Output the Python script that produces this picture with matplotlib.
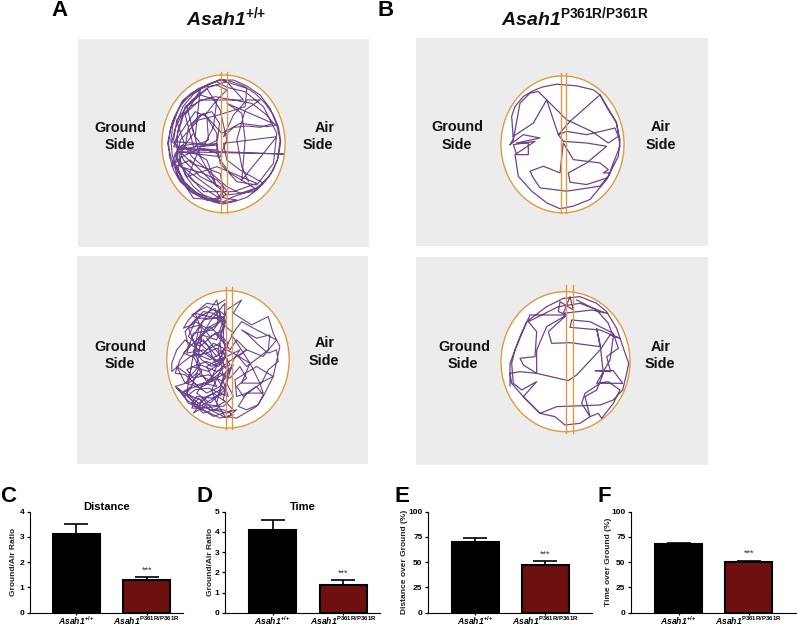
import matplotlib
matplotlib.use("Agg")
import matplotlib.pyplot as plt
from matplotlib.patches import Ellipse

plt.rcParams['font.family'] = ['Liberation Sans', 'DejaVu Sans']
plt.rcParams['mathtext.fontset'] = 'custom'
plt.rcParams['mathtext.it'] = 'Liberation Sans:italic:bold'
plt.rcParams['mathtext.bf'] = 'Liberation Sans:bold'
plt.rcParams['mathtext.rm'] = 'Liberation Sans:italic:bold'

W, H = 797, 626
GRAY, ORANGE, PURPLE, RED = '#ececec', '#e09a3e', '#5c3180', '#6e0f10'
WT = r'$\mathit{Asah1}^{\mathbf{{+}/{+}}}$'
KI = r'$\mathit{Asah1}^{\mathbf{P361R/P361R}}$'

# ---- bar data
groups = [WT, KI]
dist_ratio, dist_ratio_err = [3.1, 1.3], [0.43, 0.12]
time_ratio, time_ratio_err = [4.1, 1.35], [0.5, 0.25]
dist_pct, dist_pct_err = [70, 47], [3.5, 4]
time_pct, time_pct_err = [68, 50.5], [1.5, 1]

# ---- tracks (3x crop pixels of each panel)
track_a_top = [(480,240),(520,240),(560,258),(600,285),(630,325),(650,375),(660,420),(652,480),(630,525),(600,555),(580,570),
 (520,590),(490,605),(440,600),(395,578),(355,535),(332,470),(322,430),(335,370),(365,305),(415,265),(470,245),(500,262),
 (555,275),(610,320),(650,400),(640,490),(590,555),(530,545),(480,490),(470,430),(352,450),(345,490),(380,560),(440,600),
 (490,590),(480,560),(420,530),(370,480),(340,420),(350,360),(395,300),(440,265),(480,330),(500,420),(480,470),(350,455),
 (670,462),(480,455),(340,440),(360,400),(405,335),(440,350),(445,420),(400,440),(375,345),(420,270),(405,410),(430,440),
 (460,380),(470,300),(420,285),(375,320),(352,395),(350,480),(395,540),(470,590),(530,600),(480,610),(420,590),(370,545),
 (345,500),(390,480),(450,540),(500,585),(580,575),(610,550),(540,510),(500,480),(490,430),(650,410),(610,460),(545,540),
 (555,420),(545,340),(500,310),(650,375),(620,380),(540,370),(485,400),(430,340),(395,375),(420,470),(470,560),(440,480),
 (370,440),(350,520),(400,595),(470,600),(490,570),(480,520),(395,490),(360,455),(400,400),(380,320),(445,262),(500,245),
 (550,300),(500,300),(420,300),(370,345),(345,425),(470,435),(420,440),(385,525),(430,575),(520,575),(590,550),(470,500),
 (380,530),(350,470),(360,420),(415,360),(475,345),(555,320),(560,265),(480,240),
 (445,252),(415,268),(385,290),(360,318),(342,352),(330,390),(325,430),(328,470),(340,510),(360,545),(390,572),(425,592),
 (460,606),(490,612),(525,604),(560,592),(590,570),(615,545),(640,510),(655,470),(662,425),(655,380),(640,345),(615,310),
 (585,280),(550,258),(515,245),(480,238),(440,256),(400,282),(368,320),(350,365),(372,430),(345,460),(335,500),(365,470),
 (420,445),(470,450),(470,400),(435,345),(470,300),(500,270),(470,255),(430,262),(395,278),(370,300),(352,335),(338,375),
 (332,420),(336,465),(350,505),(372,545),(405,575),(445,596),(485,605),(470,575),(440,555),(400,525),(365,500),(345,465),
 (360,500),(395,510),(430,520),(470,540),(490,560),(505,580),(470,600),(430,585),(400,560),(375,525),(360,480),(352,440),
 (400,432),(440,436),(472,420),(478,370),(455,335),(420,345),(385,380),(375,440),(395,470),(430,500),(465,530),(500,560),
 (540,580),(585,565),(560,550),(510,520),(480,480),(470,460),(440,450),(400,450),(360,445),(335,425),(345,385),(362,350),
 (390,320),(425,300),(465,290),(520,300),(575,310),(620,345),(640,370),(600,382),(560,378),(520,382),(490,410),(520,345),
 (560,300),(600,300),(555,330),(530,420),(545,500),(565,545)]

track_a_bot = [(495,150),(470,165),(440,160),(410,185),(385,210),(370,235),(395,225),(420,200),(465,175),(480,215),(440,235),
 (405,215),(385,260),(420,290),(465,250),(500,290),(470,320),(430,270),(400,290),(375,270),(350,300),(335,340),(335,365),
 (365,340),(405,310),(450,330),(490,305),(510,345),(470,365),(420,345),(390,380),(350,350),(375,400),(410,370),(455,395),
 (495,370),(520,345),(480,410),(440,430),(400,400),(375,440),(350,415),(385,455),(420,470),(470,440),(500,400),(520,440),
 (490,470),(440,465),(400,490),(430,450),(460,480),(500,490),(530,480),(500,505),(470,490),(420,465),(380,430),(395,340),
 (415,240),(440,195),(470,150),(490,230),(475,300),(490,380),(470,460),(495,500),(530,505),(590,470),(610,440),(640,380),
 (660,290),(640,250),(625,200),(575,225),(520,190),(545,150),(500,180),(470,270),(425,255),(410,350),(440,395),(500,340),
 (560,300),(610,320),(650,270),(590,240),(545,215),(515,255),(570,340),(545,400),(600,400),(610,430),(560,430),(530,440),
 (525,390),(590,350),(640,380),(600,400),(570,340),(520,310),(460,280),(420,320),(395,265),(430,210),(490,200),(460,240),
 (400,250),(380,310),(430,300),(480,340),(445,365),(395,350),(380,400),(420,415),(470,385),(500,430),(455,445),(410,440),
 (395,460),(430,490),(475,475),(455,420),(490,345),(480,280),(440,300),(415,275),(450,215),(495,160),(490,260),(505,360),
 (490,450),(520,480),(460,500),(415,470),(360,420),(345,410),(395,395),(425,365),(400,320),(425,240),(405,190),(470,205),
 (520,250),(480,325),(440,350),(470,410),(430,400),(410,430),(450,460),(495,420),(520,330),(540,300),(470,335),(410,295),
 (385,235),(420,225),(450,260),(490,240),(500,200),(475,180),(445,205),(410,205),(395,195),(440,170),(480,190),(470,225),
 (430,250),(395,285),(370,310),(395,320),(440,310),(470,295),(500,320),(475,350),(440,335),(410,345),(380,360),(400,385),
 (445,375),(490,395),(505,440),(480,430),(445,415),(405,420),(385,435),(420,450),(460,430),(495,455),(470,470),(430,475),
 (395,475),(415,445),(450,480),(490,480),(520,495),(480,505),(450,490),(425,480),(385,460),(365,430),(395,415),(440,400),
 (480,370),(510,385),(540,350),(560,385),(530,410),(550,440),(590,410),(610,435),(595,465),(560,480),(535,470),(560,430),
 (605,400),(625,360),(655,335),(650,300),(625,310),(595,285),(565,255),(545,240),(590,265),(630,255),(625,300),(600,320),
 (560,350),(535,320),(560,300),(530,270),(510,300),(480,260),(450,230),(420,265),(445,290),(470,350),(450,395),(410,405),
 (375,375),(345,370),(360,330),(385,290),(375,245),(400,215),(430,185),(460,190),(495,215),(480,255),(505,280),(490,330),
 (455,350),(425,330),(400,300),(420,345),(395,410),(370,425),(410,465),(445,440),(480,420),(500,360),(475,310),(440,265)]

track_b_top = [(330,435),(340,420),(335,350),(345,320),(370,290),(395,275),(425,262),(470,253),(530,258),(580,270),(600,285),
 (625,330),(648,365),(660,420),(655,470),(630,520),(622,535),(560,555),(510,548),(505,520),(560,490),(620,440),(560,430),
 (490,425),(475,405),(500,395),(560,405),(645,385),(655,410),(625,430),(575,395),(500,360),(440,300),(415,275),(390,280),
 (360,310),(340,420),(330,435),(370,405),(420,415),(350,430),(385,430),(385,465),(350,465),(340,435),(405,425),(345,465),
 (355,530),(395,575),(440,610),(480,628),(520,620),(570,600),(620,540),(630,520),(610,520),(625,510),(600,490),(520,480),
 (490,430),(480,520),(430,500),(390,515),(400,535),(420,565),(500,575),(600,560),(625,530),(640,490),(660,440),(650,370),
 (600,285),(510,365),(475,405),(440,300),(400,370),(340,410)]

track_b_bot = [(330,408),(330,340),(360,260),(380,215),(440,170),(490,145),(540,140),(590,160),(620,185),(650,235),(672,300),
 (686,340),(680,370),(668,420),(640,450),(600,465),(470,470),(420,490),(370,440),(335,400),(330,370),(360,365),(410,370),
 (505,392),(530,375),(600,300),(630,255),(660,265),(600,240),(510,232),(515,210),(570,215),(640,250),(655,295),(620,320),
 (632,365),(585,362),(640,362),(668,400),(600,400),(555,430),(545,460),(570,500),(555,440),(590,420),(610,370),(600,280),
 (590,235),(600,290),(510,278),(455,280),(445,245),(500,195),(475,185),(480,155),(520,180),(510,140),(490,190),(575,180),
 (620,190),(540,160),(475,170),(385,215),(410,245),(405,320),(360,325),(370,345),(410,370),(410,300),(440,230),(500,195),
 (390,195),(370,240),(345,300),(335,340),(340,400),(365,420),(410,395),(370,440),(420,490),(465,500),(495,525),(540,520),
 (570,500),(595,490),(605,505),(640,460),(660,420),(625,395),(590,400),(630,330),(640,260),(625,220),(590,180),(530,150)]

panels = [
    dict(name='At', rect=(78, 39, 369, 247), lim=(53, 927, 741, 117),
         ell=(305, 675, 225, 638), lines=(483, 500, 215, 640), track=track_a_top,
         txt=[('Ground', 181, 383), ('Side', 180, 436), ('Air', 795, 383), ('Side', 773, 436)], lw=0.8),
    dict(name='Bt', rect=(416, 38, 708, 246), lim=(48, 924, 740, 114),
         ell=(303, 672, 228, 640), lines=(483, 499, 218, 641), track=track_b_top,
         txt=[('Ground', 172, 383), ('Side', 171, 436), ('Air', 783, 383), ('Side', 782, 436)], lw=0.9),
    dict(name='Ab', rect=(77, 256, 368, 464), lim=(50, 925, 643, 18),
         ell=(320, 688, 122, 535), lines=(497, 515, 112, 537), track=track_a_bot,
         txt=[('Ground', 181, 290), ('Side', 180, 344), ('Air', 795, 280), ('Side', 791, 335)], lw=0.8),
    dict(name='Bb', rect=(416, 257, 708, 465), lim=(48, 924, 645, 21),
         ell=(303, 690, 125, 545), lines=(498, 520, 105, 548), track=track_b_bot,
         txt=[('Ground', 192, 290), ('Side', 190, 343), ('Air', 782, 290), ('Side', 781, 343)], lw=0.9),
]

fig = plt.figure(figsize=(W / 100, H / 100), dpi=100, facecolor='white')


def px_axes(x0, y0, x1, y1):
    return fig.add_axes([x0 / W, 1 - y1 / H, (x1 - x0) / W, (y1 - y0) / H])


for p in panels:
    x0, y0, x1, y1 = p['rect']
    ax = px_axes(x0, y0, x1, y1)
    l, r, b, t = p['lim']
    ax.set_xlim(l, r)
    ax.set_ylim(b, t)
    ax.axis('off')
    ax.add_patch(plt.Rectangle((l, t), r - l, b - t, fc=GRAY, ec='none', zorder=0))
    el, er, et, eb = p['ell']
    ax.add_patch(Ellipse(((el + er) / 2, (et + eb) / 2), er - el, eb - et, fc='white', ec=ORANGE, lw=1.0, zorder=1))
    xs, ys = zip(*p['track'])
    ax.plot(xs, ys, color=PURPLE, lw=p['lw'], alpha=0.9, zorder=2)
    a, c, lt, lb = p['lines']
    ax.plot([a, a], [lt, lb], color=ORANGE, lw=1.0, zorder=3)
    ax.plot([c, c], [lt, lb], color=ORANGE, lw=1.0, zorder=3)
    for s, tx, ty in p['txt']:
        ax.text(tx, ty, s, ha='center', va='center', fontsize=10.4, fontweight='bold', color='#111111')

fig.text(226 / W, 1 - 17 / H, WT, ha='center', va='center', fontsize=14, color='#111111')
fig.text(575 / W, 1 - 17 / H, KI, ha='center', va='center', fontsize=14, color='#111111')

for s, x, y in [('A', 60, 10), ('B', 386, 11), ('C', 8, 496), ('D', 204, 496), ('E', 402, 496), ('F', 604, 496)]:
    fig.text(x / W, 1 - y / H, s, ha='center', va='center', fontsize=16, fontweight='bold')

bars = [
    dict(x0=30, x1=183, c=(76.3, 146.7), v=dist_ratio, e=dist_ratio_err, ymax=4, ticks=[0, 1, 2, 3, 4],
         ylabel='Ground/Air Ratio', title='Distance', lx=14),
    dict(x0=225, x1=380, c=(272.5, 343), v=time_ratio, e=time_ratio_err, ymax=5, ticks=[0, 1, 2, 3, 4, 5],
         ylabel='Ground/Air Ratio', title='Time', lx=210),
    dict(x0=428, x1=591.7, c=(475.3, 545), v=dist_pct, e=dist_pct_err, ymax=100, ticks=[0, 25, 50, 75, 100],
         ylabel='Distance over Ground (%)', title=None, lx=404),
    dict(x0=631, x1=796.7, c=(678.7, 748.7), v=time_pct, e=time_pct_err, ymax=100, ticks=[0, 25, 50, 75, 100],
         ylabel='Time over Ground (%)', title=None, lx=608),
]

for b in bars:
    ax = px_axes(b['x0'], 511.7, b['x1'], 612.7)
    sp = b['c'][1] - b['c'][0]
    ax.set_xlim((b['x0'] - b['c'][0]) / sp, (b['x1'] - b['c'][0]) / sp)
    ax.set_ylim(0, b['ymax'])
    ax.bar([0, 1], b['v'], width=47 / sp, color=['black', RED], edgecolor='black', linewidth=1.5, zorder=2)
    ax.errorbar([0, 1], b['v'], yerr=[[0, 0], b['e']], fmt='none', ecolor='black', elinewidth=1.2, capsize=8.5,
                capthick=1.2, zorder=1)
    ax.text(1, b['v'][1] + b['e'][1] + 0.07 * b['ymax'], '***', ha='center', va='center', fontsize=6.5, color='#333333')
    for s in ('top', 'right'):
        ax.spines[s].set_visible(False)
    ax.set_yticks(b['ticks'])
    ax.set_xticks([0, 1])
    ax.set_xticklabels(groups, fontsize=6.2)
    ax.tick_params(axis='y', labelsize=6, length=2.5, width=0.9, pad=1.5)
    ax.tick_params(axis='x', length=1.5, width=0.9, pad=0)
    for t in ax.get_yticklabels():
        t.set_fontweight('bold')
    fig.text(b['lx'] / W, 1 - 562 / H, b['ylabel'], rotation=90, ha='center', va='center', fontsize=6,
             fontweight='bold', color='#222222')
    if b['title']:
        ax.set_title(b['title'], fontsize=8, fontweight='bold', pad=1)

fig.savefig('out.png', dpi=100)
